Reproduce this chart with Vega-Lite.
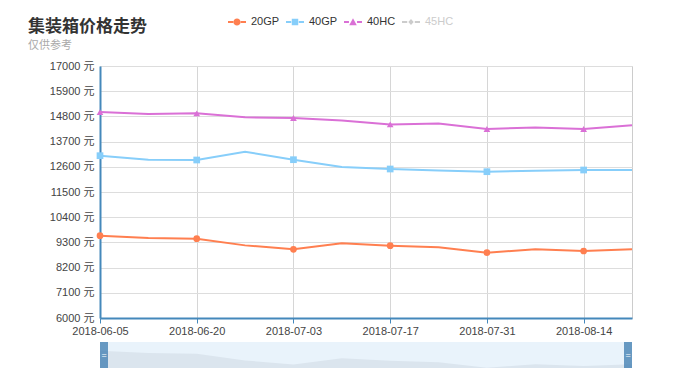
{
  "$schema": "https://vega.github.io/schema/vega-lite/v6.json",
  "padding": {"left": 27, "top": 13, "right": 0, "bottom": 0},
  "background": "white",
  "bounds": "flush",
  "spacing": 24,
  "config": {
    "font": "Liberation Sans",
    "view": {"stroke": "#cccccc"},
    "axis": {"labelFont": "Liberation Sans, Noto Sans CJK SC", "labelFontSize": 11, "labelColor": "#444444", "title": null}
  },
  "data": {"values": [
    {"date": "2018-06-05", "type": "20GP", "price": 9593},
    {"date": "2018-06-12", "type": "20GP", "price": 9490},
    {"date": "2018-06-20", "type": "20GP", "price": 9462},
    {"date": "2018-06-27", "type": "20GP", "price": 9170},
    {"date": "2018-07-03", "type": "20GP", "price": 8997},
    {"date": "2018-07-10", "type": "20GP", "price": 9260},
    {"date": "2018-07-17", "type": "20GP", "price": 9157},
    {"date": "2018-07-24", "type": "20GP", "price": 9085},
    {"date": "2018-07-31", "type": "20GP", "price": 8850},
    {"date": "2018-08-07", "type": "20GP", "price": 9000},
    {"date": "2018-08-14", "type": "20GP", "price": 8925},
    {"date": "2018-08-21", "type": "20GP", "price": 9000},
    {"date": "2018-06-05", "type": "40GP", "price": 13085},
    {"date": "2018-06-12", "type": "40GP", "price": 12910},
    {"date": "2018-06-20", "type": "40GP", "price": 12897},
    {"date": "2018-06-27", "type": "40GP", "price": 13260},
    {"date": "2018-07-03", "type": "40GP", "price": 12910},
    {"date": "2018-07-10", "type": "40GP", "price": 12590},
    {"date": "2018-07-17", "type": "40GP", "price": 12504},
    {"date": "2018-07-24", "type": "40GP", "price": 12440},
    {"date": "2018-07-31", "type": "40GP", "price": 12386},
    {"date": "2018-08-07", "type": "40GP", "price": 12430},
    {"date": "2018-08-14", "type": "40GP", "price": 12460},
    {"date": "2018-08-21", "type": "40GP", "price": 12460},
    {"date": "2018-06-05", "type": "40HC", "price": 14990},
    {"date": "2018-06-12", "type": "40HC", "price": 14900},
    {"date": "2018-06-20", "type": "40HC", "price": 14935},
    {"date": "2018-06-27", "type": "40HC", "price": 14760},
    {"date": "2018-07-03", "type": "40HC", "price": 14730},
    {"date": "2018-07-10", "type": "40HC", "price": 14625},
    {"date": "2018-07-17", "type": "40HC", "price": 14450},
    {"date": "2018-07-24", "type": "40HC", "price": 14490},
    {"date": "2018-07-31", "type": "40HC", "price": 14250},
    {"date": "2018-08-07", "type": "40HC", "price": 14320},
    {"date": "2018-08-14", "type": "40HC", "price": 14250},
    {"date": "2018-08-21", "type": "40HC", "price": 14410}
  ]},
  "vconcat": [
    {
      "width": 532,
      "height": 252,
      "title": {
        "text": "集装箱价格走势",
        "subtitle": "仅供参考",
        "anchor": "start",
        "frame": "group",
        "dx": -72,
        "offset": 8,
        "font": "Noto Sans CJK SC",
        "fontSize": 17,
        "fontWeight": "bold",
        "color": "#333333",
        "subtitleFont": "Noto Sans CJK SC",
        "subtitleFontSize": 11,
        "subtitleColor": "#aaaaaa",
        "subtitlePadding": 4
      },
      "encoding": {
        "x": {
          "field": "date", "type": "ordinal", "sort": null,
          "scale": {"type": "point", "padding": 0},
          "axis": {
            "values": ["2018-06-05", "2018-06-20", "2018-07-03", "2018-07-17", "2018-07-31", "2018-08-14"],
            "labelAngle": 0, "domainColor": "#4488bb", "domainWidth": 2,
            "tickColor": "#4488bb", "tickSize": 5, "labelPadding": 2,
            "grid": true, "gridColor": "#d6d6d6"
          }
        },
        "y": {
          "field": "price", "type": "quantitative",
          "scale": {"domain": [6000, 17000], "nice": false, "zero": false},
          "axis": {
            "values": [6000, 7100, 8200, 9300, 10400, 11500, 12600, 13700, 14800, 15900, 17000],
            "labelExpr": "datum.value + ' 元'",
            "ticks": false, "labelPadding": 6,
            "domainColor": "#4488bb", "domainWidth": 2,
            "grid": true, "gridColor": "#dddddd"
          }
        },
        "color": {
          "field": "type", "type": "nominal",
          "scale": {"domain": ["20GP", "40GP", "40HC", "45HC"], "range": ["#ff7f50", "#87cefa", "#da70d6", "#cccccc"]},
          "legend": {
            "title": null, "orient": "none", "legendX": 128, "legendY": -53,
            "direction": "horizontal", "columns": 4, "symbolSize": 324,
            "labelFontSize": 11, "labelFont": "Liberation Sans", "labelOffset": 5, "columnPadding": 6,
            "encode": {
              "symbols": {"update": {
                "shape": {"signal": "datum.value === '20GP' ? 'M-1,-0.1H-0.42V0.1H-1Z M0.42,-0.1H1V0.1H0.42Z M-0.4,0A0.4,0.4 0 1,1 0.4,0A0.4,0.4 0 1,1 -0.4,0Z' : datum.value === '40GP' ? 'M-1,-0.1H-0.42V0.1H-1Z M0.42,-0.1H1V0.1H0.42Z M-0.36,-0.36H0.36V0.36H-0.36Z' : datum.value === '40HC' ? 'M-1,-0.1H-0.45V0.1H-1Z M0.45,-0.1H1V0.1H0.45Z M0,-0.42L0.42,0.36H-0.42Z' : 'M-1,-0.1H-0.42V0.1H-1Z M0.42,-0.1H1V0.1H0.42Z M0,-0.32L0.3,0L0,0.32L-0.3,0Z'"},
                "fill": {"scale": "color", "field": "value"},
                "strokeWidth": {"value": 0},
                "opacity": {"value": 1}
              }},
              "labels": {"update": {"fill": {"signal": "datum.value === '45HC' ? '#cccccc' : '#333333'"}}}
            }
          }
        }
      },
      "layer": [
        {"mark": {"type": "line", "strokeWidth": 2}},
        {
          "transform": [
            {"filter": {"field": "date", "oneOf": ["2018-06-05", "2018-06-20", "2018-07-03", "2018-07-17", "2018-07-31", "2018-08-14"]}},
            {"filter": "datum.type === '20GP'"}
          ],
          "mark": {"type": "point", "filled": true, "opacity": 1, "size": 45, "shape": "circle"}
        },
        {
          "transform": [
            {"filter": {"field": "date", "oneOf": ["2018-06-05", "2018-06-20", "2018-07-03", "2018-07-17", "2018-07-31", "2018-08-14"]}},
            {"filter": "datum.type === '40GP'"}
          ],
          "mark": {"type": "point", "filled": true, "opacity": 1, "size": 45, "shape": "square"}
        },
        {
          "transform": [
            {"filter": {"field": "date", "oneOf": ["2018-06-05", "2018-06-20", "2018-07-03", "2018-07-17", "2018-07-31", "2018-08-14"]}},
            {"filter": "datum.type === '40HC'"}
          ],
          "mark": {"type": "point", "filled": true, "opacity": 1, "size": 45, "shape": "triangle-up"}
        }
      ]
    },
    {
      "width": 532,
      "height": 26,
      "view": {"fill": "#e9f3fb", "stroke": null},
      "transform": [{"filter": "datum.type === '20GP'"}],
      "encoding": {
        "x": {"field": "date", "type": "ordinal", "sort": null, "scale": {"type": "point", "padding": 0}, "axis": null}
      },
      "layer": [
        {
          "mark": {"type": "area", "color": "#dbe5ee"},
          "encoding": {
            "y": {"field": "price", "type": "quantitative", "scale": {"domain": [8840, 9970], "nice": false, "zero": false}, "axis": null},
            "y2": {"datum": 8840}
          }
        },
        {
          "transform": [{"filter": "datum.date === '2018-06-05'"}],
          "mark": {"type": "rule", "strokeWidth": 8, "color": "rgba(70,130,180,0.8)", "xOffset": 4},
          "encoding": {}
        },
        {
          "transform": [{"filter": "datum.date === '2018-08-21'"}],
          "mark": {"type": "rule", "strokeWidth": 8, "color": "rgba(70,130,180,0.8)", "xOffset": -4},
          "encoding": {}
        },
        {
          "transform": [{"filter": "datum.date === '2018-06-05'"}],
          "mark": {"type": "text", "text": "=", "color": "white", "fontSize": 9, "xOffset": 4},
          "encoding": {}
        },
        {
          "transform": [{"filter": "datum.date === '2018-08-21'"}],
          "mark": {"type": "text", "text": "=", "color": "white", "fontSize": 9, "xOffset": -4},
          "encoding": {}
        }
      ]
    }
  ]
}
